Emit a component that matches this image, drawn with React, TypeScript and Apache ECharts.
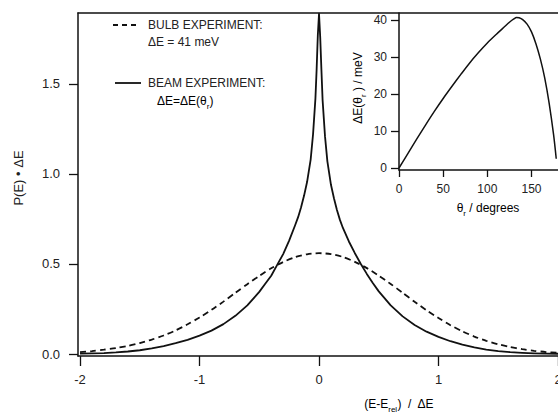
import React, { useEffect, useRef } from "react";
import * as echarts from "echarts";

// ---- data ----
const bulbX = [-2.0,-1.9,-1.8,-1.7,-1.6,-1.5,-1.4,-1.3,-1.2,-1.1,-1.0,-0.9,-0.8,-0.7,-0.6,-0.5,-0.4,-0.3,-0.2,-0.1,0,0.1,0.2,0.3,0.4,0.5,0.6,0.7,0.8,0.9,1.0,1.1,1.2,1.3,1.4,1.5,1.6,1.7,1.8,1.9,2.0];
const bulbY = [0.010,0.016,0.024,0.033,0.045,0.061,0.080,0.103,0.131,0.165,0.203,0.245,0.291,0.340,0.388,0.434,0.476,0.511,0.538,0.554,0.560,0.555,0.539,0.512,0.477,0.435,0.389,0.340,0.290,0.243,0.200,0.160,0.126,0.097,0.073,0.054,0.039,0.027,0.018,0.011,0.007];

const beamX = [-2.0,-1.9,-1.8,-1.7,-1.6,-1.5,-1.4,-1.3,-1.2,-1.1,-1.0,-0.9,-0.8,-0.7,-0.6,-0.5,-0.45,-0.4,-0.35,-0.3,-0.25,-0.2,-0.175,-0.15,-0.125,-0.1,-0.07,-0.05,-0.03,-0.02,-0.01,0,0.01,0.02,0.03,0.05,0.07,0.1,0.125,0.15,0.175,0.2,0.25,0.3,0.35,0.4,0.45,0.5,0.6,0.7,0.8,0.9,1.0,1.1,1.2,1.3,1.4,1.5,1.6,1.7,1.8,1.9,2.0];
const beamY = [0.002,0.0035,0.0055,0.009,0.014,0.021,0.031,0.044,0.060,0.079,0.102,0.130,0.166,0.212,0.270,0.345,0.39,0.435,0.495,0.555,0.63,0.715,0.76,0.815,0.88,0.955,1.08,1.22,1.42,1.58,1.77,1.89,1.76,1.58,1.41,1.21,1.07,0.94,0.865,0.80,0.745,0.70,0.625,0.56,0.50,0.445,0.395,0.348,0.270,0.209,0.161,0.124,0.095,0.071,0.052,0.037,0.025,0.016,0.010,0.0065,0.004,0.0025,0.0015];

const insetTheta = [0,10,20,30,40,50,60,70,80,90,100,110,120,125,130,133,136,140,145,150,155,160,165,170,175,178];
const insetDeltaE = [0,3.9,7.8,11.6,15.3,18.8,22.1,25.3,28.4,31.2,33.8,36.1,38.3,39.4,40.3,40.7,40.6,40.1,38.9,36.8,33.6,29.5,24.3,17.5,9.0,2.5];

const mainXTicks = [-2,-1,0,1,2];
const mainYTicks = [0,0.5,1.0,1.5];
const insetXTicks = [0,50,100,150];
const insetYTicks = [0,10,20,30,40];

const FONT = "'Liberation Sans', Arial, Helvetica, sans-serif";
const INK = "#111";
const TXT = "#222";

function zip(xs: number[], ys: number[]) {
  return xs.map((x, i) => [x, ys[i]]);
}

export default function App() {
  const ref = useRef<HTMLDivElement>(null);
  useEffect(() => {
    if (!ref.current) return;
    const chart = echarts.init(ref.current, null, { renderer: "svg" });
    const axisLine = { show: true, onZero: false, lineStyle: { color: INK, width: 1.5 } };
    const label = (size: number, margin: number, custom: number[], fmt?: (v: number) => string) => ({
      show: true,
      color: TXT,
      fontSize: size,
      fontFamily: FONT,
      margin,
      customValues: custom,
      formatter: fmt,
    });
    const tick = (len: number, custom: number[]) => ({
      show: true,
      length: len,
      inside: false,
      customValues: custom,
      lineStyle: { color: INK, width: 1.3 },
    });
    const rich = {
      a: { fontSize: 12, fontFamily: FONT, color: TXT, lineHeight: 18, verticalAlign: "middle" },
      sub: { fontSize: 8, fontFamily: FONT, color: TXT, lineHeight: 18, verticalAlign: "bottom" },
    };
    chart.setOption({
      animation: false,
      backgroundColor: "#fff",
      grid: [
        { left: 78, top: 13, right: 0, bottom: 57, outerBoundsMode: "none", containLabel: false },
        { left: 399, top: 13, right: 0, height: 157, outerBoundsMode: "none", containLabel: false },
      ],
      xAxis: [
        {
          type: "value", gridIndex: 0, min: -2.017, max: 2.0,
          axisLine, axisTick: tick(10, mainXTicks),
          axisLabel: label(13, 17, mainXTicks, (v: number) => String(v)),
          splitLine: { show: false },
        },
        {
          type: "value", gridIndex: 0, position: "top", min: -2.017, max: 2.0,
          axisLine, axisTick: { show: false }, axisLabel: { show: false }, splitLine: { show: false },
        },
        {
          type: "value", gridIndex: 1, min: 0, max: 180,
          axisLine, axisTick: tick(7, insetXTicks),
          axisLabel: label(12, 13, insetXTicks, (v: number) => String(v)),
          splitLine: { show: false },
        },
      ],
      yAxis: [
        {
          type: "value", gridIndex: 0, min: -0.011, max: 1.894,
          axisLine, axisTick: tick(9, mainYTicks),
          axisLabel: label(13, 18, mainYTicks, (v: number) => v.toFixed(1)),
          splitLine: { show: false },
        },
        {
          type: "value", gridIndex: 1, min: -0.54, max: 41.9,
          axisLine, axisTick: tick(8, insetYTicks),
          axisLabel: label(12, 12, insetYTicks, (v: number) => String(v)),
          splitLine: { show: false },
        },
      ],
      series: [
        {
          type: "line", xAxisIndex: 0, yAxisIndex: 0, data: zip(bulbX, bulbY),
          showSymbol: false, smooth: 0.25,
          lineStyle: { color: INK, width: 1.8, type: [6, 4] },
        },
        {
          type: "line", xAxisIndex: 0, yAxisIndex: 0, data: zip(beamX, beamY),
          showSymbol: false, smooth: false,
          lineStyle: { color: INK, width: 1.8, join: "round" },
        },
        {
          type: "line", xAxisIndex: 2, yAxisIndex: 1, data: zip(insetTheta, insetDeltaE),
          showSymbol: false, smooth: 0.3,
          lineStyle: { color: INK, width: 1.5 },
        },
      ],
      graphic: [
        { type: "line", shape: { x1: 113, y1: 25, x2: 138, y2: 25 }, style: { stroke: INK, lineWidth: 1.8, lineDash: [5, 4] } },
        { type: "text", x: 148, y: 25, style: { text: "BULB EXPERIMENT:", fontSize: 12, fontFamily: FONT, fill: TXT, align: "left", verticalAlign: "middle" } },
        { type: "text", x: 148, y: 42, style: { text: "ΔE = 41 meV", fontSize: 12, fontFamily: FONT, fill: TXT, align: "left", verticalAlign: "middle" } },
        { type: "line", shape: { x1: 115, y1: 83, x2: 141, y2: 83 }, style: { stroke: INK, lineWidth: 1.8 } },
        { type: "text", x: 148, y: 83, style: { text: "BEAM EXPERIMENT:", fontSize: 12, fontFamily: FONT, fill: TXT, align: "left", verticalAlign: "middle" } },
        { type: "text", x: 157, y: 101, style: { text: "{a|ΔE=ΔE(θ}{sub|r}{a|)}", rich, align: "left", verticalAlign: "middle" } },
        { type: "text", x: 18, y: 178, rotation: Math.PI / 2, style: { text: "P(E) • ΔE", fontSize: 13, fontFamily: FONT, fill: TXT, align: "center", verticalAlign: "middle" } },
        { type: "text", x: 399, y: 404, style: { text: "{a|(E-E}{sub|rel}{a|)  /  ΔE}", rich, align: "center", verticalAlign: "middle" } },
        { type: "text", x: 358, y: 88, rotation: Math.PI / 2, style: { text: "{a|ΔE(θ}{sub|r}{a| ) / meV}", rich, align: "center", verticalAlign: "middle" } },
        { type: "text", x: 488, y: 208, style: { text: "{a|θ}{sub|r}{a| / degrees}", rich, align: "center", verticalAlign: "middle" } },
      ],
    });
    return () => chart.dispose();
  }, []);
  return <div ref={ref} style={{ position: "fixed", left: 0, top: 0, width: 558, height: 413, background: "#fff" }} />;
}
